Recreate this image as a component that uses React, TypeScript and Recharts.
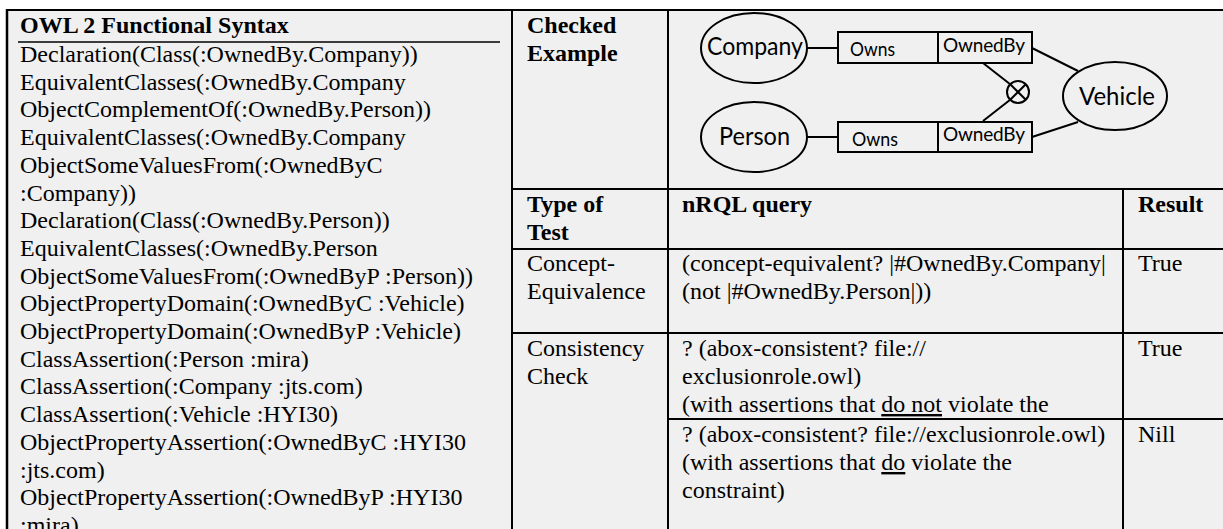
import React from "react";
import { ComposedChart, Customized } from "recharts";

// ---- data (text content of the table) ----
const owlHeader = "OWL 2 Functional Syntax";
const owlLines = [
  "Declaration(Class(:OwnedBy.Company))",
  "EquivalentClasses(:OwnedBy.Company",
  "ObjectComplementOf(:OwnedBy.Person))",
  "EquivalentClasses(:OwnedBy.Company",
  "ObjectSomeValuesFrom(:OwnedByC",
  ":Company))",
  "Declaration(Class(:OwnedBy.Person))",
  "EquivalentClasses(:OwnedBy.Person",
  "ObjectSomeValuesFrom(:OwnedByP :Person))",
  "ObjectPropertyDomain(:OwnedByC :Vehicle)",
  "ObjectPropertyDomain(:OwnedByP :Vehicle)",
  "ClassAssertion(:Person :mira)",
  "ClassAssertion(:Company :jts.com)",
  "ClassAssertion(:Vehicle :HYI30)",
  "ObjectPropertyAssertion(:OwnedByC :HYI30",
  ":jts.com)",
  "ObjectPropertyAssertion(:OwnedByP :HYI30",
  ":mira)",
];
const checkedLabel = ["Checked", "Example"];
const columnHeaders = [["Type of", "Test"], ["nRQL query"], ["Result"]];
const testTypes = [["Concept-", "Equivalence"], ["Consistency", "Check"]];
const queryRow1 = ["(concept-equivalent? |#OwnedBy.Company|", "(not |#OwnedBy.Person|))"];
const queryRow2 = ["? (abox-consistent? file://", "exclusionrole.owl)", "(with assertions that |do not| violate the"];
const queryRow3 = ["? (abox-consistent? file://exclusionrole.owl)", "(with assertions that |do| violate the", "constraint)"];
const results = ["True", "True", "Nill"];
const diagramClasses = ["Company", "Person", "Vehicle"];
const diagramRoles = ["Owns", "OwnedBy"];

const serif = "'Liberation Serif', 'Times New Roman', serif";
const sans = "Lato, 'Open Sans', sans-serif";
const FS = 24;
const LH = 27.7;

function Line(props: { lines: string[]; x: number; y: number; bold?: boolean; lh?: number }) {
  const { lines, x, y, bold } = props;
  const lh = props.lh ?? LH;
  return (
    <g>
      {lines.map((t, i) => {
        const parts = t.split("|");
        const hasUnderline = t.includes("|do");
        return (
          <text
            key={i}
            x={x}
            y={y + i * lh}
            fontFamily={serif}
            fontSize={FS}
            fontWeight={bold ? "bold" : "normal"}
            fill="#000"
          >
            {hasUnderline
              ? parts.map((p, j) => (
                  <tspan key={j} style={j === 1 ? { textDecoration: "underline" } : undefined}>
                    {p}
                  </tspan>
                ))
              : t}
          </text>
        );
      })}
    </g>
  );
}

function Table() {
  const sw = 2;
  return (
    <g>
      {/* background */}
      <rect x={7} y={10} width={1216} height={519} fill="#f0f0f0" />
      {/* grid */}
      <g stroke="#000" strokeWidth={sw} fill="none">
        <line x1={6} y1={10} x2={1223} y2={10} />
        <line x1={7} y1={9} x2={7} y2={529} strokeWidth={2.5} />
        <line x1={512} y1={10} x2={512} y2={529} />
        <line x1={668} y1={10} x2={668} y2={529} />
        <line x1={512} y1={189} x2={1223} y2={189} />
        <line x1={512} y1={249} x2={1223} y2={249} />
        <line x1={512} y1={333} x2={1223} y2={333} />
        <line x1={668} y1={419} x2={1223} y2={419} />
        <line x1={1123} y1={189} x2={1123} y2={529} />
        <line x1={18} y1={42} x2={500} y2={42} strokeWidth={1.5} />
      </g>

      {/* left column */}
      <Line lines={[owlHeader]} x={20} y={33} bold />
      <Line lines={owlLines} x={20} y={62} />

      {/* right table */}
      <Line lines={checkedLabel} x={527} y={33} bold lh={28} />
      <Line lines={columnHeaders[0]} x={527} y={212} bold lh={28} />
      <Line lines={columnHeaders[1]} x={682} y={212} bold />
      <Line lines={columnHeaders[2]} x={1138} y={212} bold />
      <Line lines={testTypes[0]} x={527} y={271} lh={28} />
      <Line lines={queryRow1} x={682} y={271} lh={28} />
      <Line lines={[results[0]]} x={1138} y={271} />
      <Line lines={testTypes[1]} x={527} y={356} lh={28} />
      <Line lines={queryRow2} x={682} y={356} lh={28} />
      <Line lines={[results[1]]} x={1138} y={356} />
      <Line lines={queryRow3} x={682} y={442} lh={28} />
      <Line lines={[results[2]]} x={1138} y={442} />

      {/* diagram */}
      <g stroke="#000" strokeWidth={2} fill="none">
        <ellipse cx={754} cy={48} rx={53} ry={35} />
        <ellipse cx={754} cy={137} rx={53} ry={35} />
        <ellipse cx={1115} cy={96} rx={52} ry={34} />
        <line x1={807} y1={48} x2={838} y2={48} />
        <line x1={807} y1={137} x2={838} y2={137} />
        <rect x={838} y={32} width={194} height={31} />
        <line x1={938} y1={32} x2={938} y2={63} />
        <rect x={838} y={122} width={194} height={30} />
        <line x1={938} y1={122} x2={938} y2={152} />
        <line x1={1032} y1={48} x2={1078} y2={71} />
        <line x1={1032} y1={137} x2={1078} y2={122} />
        <circle cx={1018} cy={92} r={11} />
        <line x1={1010.2} y1={84.2} x2={1025.8} y2={99.8} />
        <line x1={1010.2} y1={99.8} x2={1025.8} y2={84.2} />
        <line x1={983} y1={63} x2={1010.2} y2={84.2} />
        <line x1={983} y1={121} x2={1010.2} y2={99.8} />
      </g>
      <g fontFamily={sans} fill="#000">
        <text x={707} y={55} fontSize={25} textLength={96} lengthAdjust="spacingAndGlyphs">{diagramClasses[0]}</text>
        <text x={719} y={145} fontSize={25} textLength={71} lengthAdjust="spacingAndGlyphs">{diagramClasses[1]}</text>
        <text x={1079} y={105} fontSize={25} textLength={76} lengthAdjust="spacingAndGlyphs">{diagramClasses[2]}</text>
        <text x={850} y={56} fontSize={19} textLength={45} lengthAdjust="spacingAndGlyphs">{diagramRoles[0]}</text>
        <text x={943} y={52} fontSize={19} textLength={82} lengthAdjust="spacing">{diagramRoles[1]}</text>
        <text x={852} y={146} fontSize={19} textLength={46} lengthAdjust="spacingAndGlyphs">{diagramRoles[0]}</text>
        <text x={943} y={141} fontSize={19} textLength={82} lengthAdjust="spacing">{diagramRoles[1]}</text>
      </g>
    </g>
  );
}

const chartData = owlLines.map((l, i) => ({ i, len: l.length }));

export default function App() {
  return (
    <div style={{ position: "absolute", left: 0, top: 0, width: 1223, height: 529, background: "#fff", overflow: "hidden" }}>
      <ComposedChart width={1223} height={529} data={chartData} margin={{ top: 0, right: 0, bottom: 0, left: 0 }}>
        <Customized component={Table} />
      </ComposedChart>
    </div>
  );
}
